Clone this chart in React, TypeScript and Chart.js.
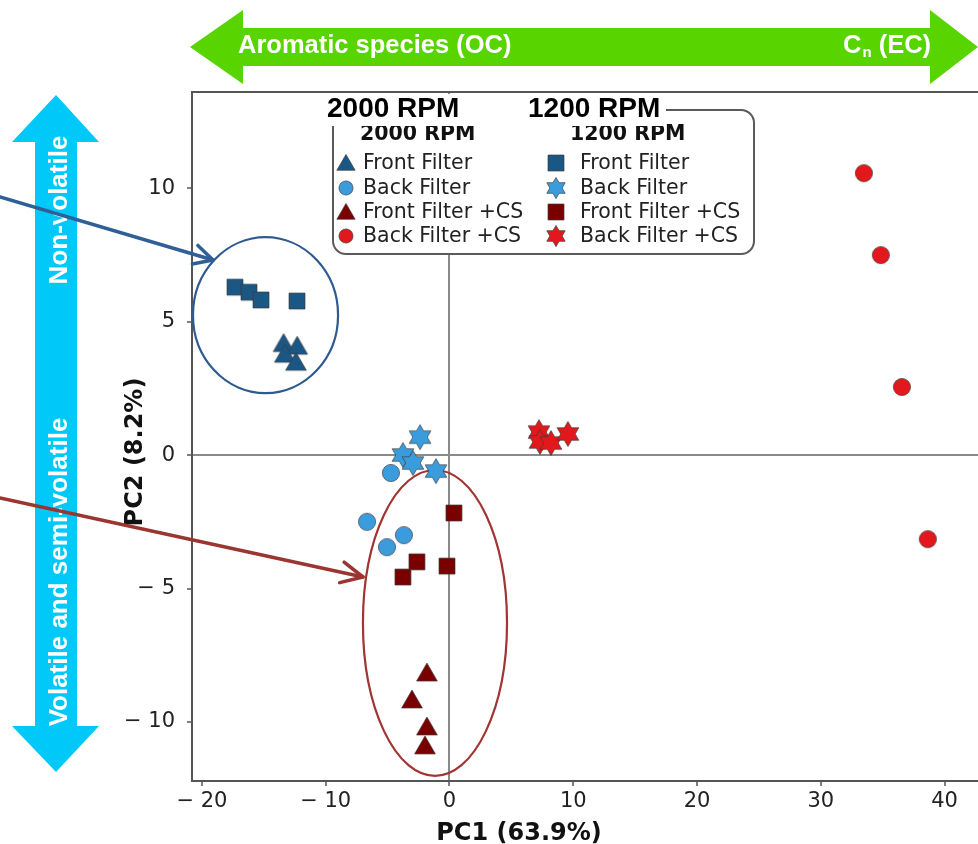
import React, { useEffect, useRef } from 'react';
import { Chart, registerables } from 'chart.js';

Chart.register(...registerables);

// PCA scores (PC1, PC2) per sample group
const front2000X = [-13.4, -12.3, -13.3, -12.4];
const front2000Y = [4.1, 4.0, 3.7, 3.4];
const back2000X = [-4.73, -6.66, -3.68, -5.05];
const back2000Y = [-0.67, -2.5, -3.0, -3.45];
const frontCS2000X = [-1.82, -3.03, -1.82, -1.98];
const frontCS2000Y = [-8.24, -9.25, -10.26, -10.97];
const backCS2000X = [33.48, 34.85, 36.55, 38.65];
const backCS2000Y = [10.56, 7.49, 2.55, -3.15];

const front1200X = [-17.33, -16.2, -15.23, -12.32];
const front1200Y = [6.29, 6.1, 5.81, 5.77];
const back1200X = [-2.38, -3.76, -2.95, -1.09];
const back1200Y = [0.67, 0.0, -0.3, -0.6];
const frontCS1200X = [0.36, -2.63, -3.76, -0.2];
const frontCS1200Y = [-2.17, -4.0, -4.57, -4.16];
const backCS1200X = [7.23, 7.31, 8.2, 9.57];
const backCS1200Y = [0.86, 0.49, 0.45, 0.79];

const seriesLabels = ['Front Filter', 'Back Filter', 'Front Filter +CS', 'Back Filter +CS'];
const groupHeaders = ['2000 RPM', '1200 RPM'];

const xTicks = [-20, -10, 0, 10, 20, 30, 40];
const yTicks = [-10, -5, 0, 5, 10];
const X_MIN = -20.8;
const X_MAX = 42.7;
const Y_MIN = -12.21;
const Y_MAX = 13.6;

// Outlined groups (centre and semi-axes in PC units)
const blueGroup = { cx: -14.86, cy: 5.24, rx: 5.86, ry: 2.92 };
const redGroup = { cx: -1.17, cy: -6.29, rx: 5.82, ry: 5.73 };

const DARK_BLUE = '#1b5784';
const LIGHT_BLUE = '#3a9cdd';
const DARK_RED = '#7a0000';
const RED = '#e3181c';

type Shape = 'triangle' | 'circle' | 'square' | 'star';

function makeMarker(shape: Shape, fill: string, scale = 1): HTMLCanvasElement {
  const s = 32;
  const c = document.createElement('canvas');
  c.width = s;
  c.height = s;
  const g = c.getContext('2d')!;
  g.translate(s / 2, s / 2);
  g.beginPath();
  if (shape === 'triangle') {
    const r = 12 * scale;
    g.moveTo(0, -r);
    g.lineTo(0.866 * r, 0.5 * r);
    g.lineTo(-0.866 * r, 0.5 * r);
    g.closePath();
  } else if (shape === 'circle') {
    g.arc(0, 0, 8.6 * scale, 0, Math.PI * 2);
  } else if (shape === 'square') {
    const h = 8 * scale;
    g.rect(-h, -h, 2 * h, 2 * h);
  } else {
    const R = 12.5 * scale;
    const r = R * 0.58;
    for (let i = 0; i < 12; i++) {
      const a = -Math.PI / 2 + (i * Math.PI) / 6;
      const rad = i % 2 === 0 ? R : r;
      const px = Math.cos(a) * rad;
      const py = Math.sin(a) * rad;
      if (i === 0) g.moveTo(px, py);
      else g.lineTo(px, py);
    }
    g.closePath();
  }
  g.fillStyle = fill;
  g.fill();
  g.strokeStyle = 'rgba(60,60,60,0.85)';
  g.lineWidth = 0.8;
  g.stroke();
  return c;
}

function zip(xs: number[], ys: number[]) {
  return xs.map((x, i) => ({ x, y: ys[i] }));
}

function openArrow(
  ctx: CanvasRenderingContext2D,
  x0: number,
  y0: number,
  x1: number,
  y1: number,
  color: string,
  width: number,
  headLen: number,
  headAngle: number
) {
  const ang = Math.atan2(y1 - y0, x1 - x0);
  ctx.save();
  ctx.strokeStyle = color;
  ctx.lineWidth = width;
  ctx.lineCap = 'round';
  ctx.lineJoin = 'round';
  ctx.beginPath();
  ctx.moveTo(x0, y0);
  ctx.lineTo(x1, y1);
  ctx.stroke();
  ctx.beginPath();
  ctx.moveTo(x1 - headLen * Math.cos(ang - headAngle), y1 - headLen * Math.sin(ang - headAngle));
  ctx.lineTo(x1, y1);
  ctx.lineTo(x1 - headLen * Math.cos(ang + headAngle), y1 - headLen * Math.sin(ang + headAngle));
  ctx.stroke();
  ctx.restore();
}

function noPadding(s: any) {
  s.paddingLeft = 0;
  s.paddingRight = 0;
  s.paddingTop = 0;
  s.paddingBottom = 0;
}

export default function App() {
  const ref = useRef<HTMLCanvasElement>(null);

  useEffect(() => {
    document.body.style.margin = '0';
    const canvas = ref.current!;

    const groups: { xs: number[]; ys: number[]; shape: Shape; color: string }[] = [
      { xs: front2000X, ys: front2000Y, shape: 'triangle', color: DARK_BLUE },
      { xs: back2000X, ys: back2000Y, shape: 'circle', color: LIGHT_BLUE },
      { xs: frontCS2000X, ys: frontCS2000Y, shape: 'triangle', color: DARK_RED },
      { xs: backCS2000X, ys: backCS2000Y, shape: 'circle', color: RED },
      { xs: front1200X, ys: front1200Y, shape: 'square', color: DARK_BLUE },
      { xs: back1200X, ys: back1200Y, shape: 'star', color: LIGHT_BLUE },
      { xs: frontCS1200X, ys: frontCS1200Y, shape: 'square', color: DARK_RED },
      { xs: backCS1200X, ys: backCS1200Y, shape: 'star', color: RED },
    ];

    const legendScale: Record<Shape, number> = { triangle: 0.88, circle: 0.82, square: 1, star: 0.85 };

    const datasets = groups.map((g, i) => ({
      label: `${groupHeaders[i < 4 ? 0 : 1]} ${seriesLabels[i % 4]}`,
      data: zip(g.xs, g.ys),
      pointStyle: makeMarker(g.shape, g.color),
      pointRadius: 10,
      pointHoverRadius: 10,
      showLine: false,
    }));
    const legendMarkers = groups.map((g) => makeMarker(g.shape, g.color, legendScale[g.shape]));

    const annotations = {
      id: 'annotations',
      beforeDatasetsDraw(chart: any) {
        const { ctx, chartArea, scales } = chart;
        const xs = scales.x;
        const ys = scales.y;
        ctx.save();
        // top frame
        ctx.strokeStyle = '#555';
        ctx.lineWidth = 2;
        ctx.beginPath();
        ctx.moveTo(chartArea.left - 1, chartArea.top);
        ctx.lineTo(chartArea.right, chartArea.top);
        ctx.stroke();
        // group outlines
        const ell = (e: typeof blueGroup, color: string) => {
          const px = xs.getPixelForValue(e.cx);
          const py = ys.getPixelForValue(e.cy);
          const rx = Math.abs(xs.getPixelForValue(e.cx + e.rx) - px);
          const ry = Math.abs(ys.getPixelForValue(e.cy + e.ry) - py);
          ctx.beginPath();
          ctx.ellipse(px, py, rx, ry, 0, 0, Math.PI * 2);
          ctx.strokeStyle = color;
          ctx.lineWidth = 2.2;
          ctx.stroke();
        };
        ell(blueGroup, '#2f5a90');
        ell(redGroup, '#a03532');
        ctx.restore();
      },
      afterDraw(chart: any) {
        const { ctx } = chart;
        ctx.save();

        // axis titles
        ctx.fillStyle = '#111';
        ctx.font = 'bold 24px "DejaVu Sans"';
        ctx.textAlign = 'center';
        ctx.textBaseline = 'alphabetic';
        ctx.fillText('PC1 (63.9%)', 519, 840);
        ctx.save();
        ctx.translate(142, 452);
        ctx.rotate(-Math.PI / 2);
        ctx.fillText('PC2 (8.2%)', 0, 0);
        ctx.restore();

        // legend box
        ctx.beginPath();
        (ctx as any).roundRect(333, 110, 421, 144, 13);
        ctx.fillStyle = '#fff';
        ctx.fill();
        ctx.strokeStyle = '#5a5a5a';
        ctx.lineWidth = 2;
        ctx.stroke();

        ctx.fillStyle = '#111';
        ctx.textAlign = 'left';
        ctx.font = 'bold 20.5px "DejaVu Sans"';
        ctx.fillText(groupHeaders[0], 360, 140);
        ctx.fillText(groupHeaders[1], 570, 140);

        const rows = [163, 188, 212, 236];
        ctx.font = '20.5px "DejaVu Sans"';
        ctx.textBaseline = 'middle';
        ctx.fillStyle = '#222';
        for (let i = 0; i < 4; i++) {
          const m1 = legendMarkers[i];
          const m2 = legendMarkers[i + 4];
          const y = rows[i];
          const y1 = groups[i].shape === 'triangle' ? y + 2 : y;
          ctx.drawImage(m1, 346 - m1.width / 2, y1 - m1.height / 2);
          ctx.drawImage(m2, 556 - m2.width / 2, y - m2.height / 2);
          ctx.fillText(seriesLabels[i], 363, y + 1);
          ctx.fillText(seriesLabels[i], 580, y + 1);
        }

        // heading strip above legend
        ctx.fillStyle = '#fff';
        ctx.fillRect(324, 94, 342, 32);
        ctx.fillStyle = '#000';
        ctx.textBaseline = 'alphabetic';
        ctx.font = 'bold 28px "Liberation Sans"';
        ctx.fillText(groupHeaders[0], 327, 117);
        ctx.fillText(groupHeaders[1], 528, 117);

        // green PC1 interpretation arrow
        ctx.fillStyle = '#58d400';
        ctx.beginPath();
        ctx.moveTo(190, 47);
        ctx.lineTo(243, 10);
        ctx.lineTo(243, 28);
        ctx.lineTo(930, 28);
        ctx.lineTo(930, 10);
        ctx.lineTo(978, 47);
        ctx.lineTo(930, 84);
        ctx.lineTo(930, 66);
        ctx.lineTo(243, 66);
        ctx.lineTo(243, 84);
        ctx.closePath();
        ctx.fill();
        ctx.fillStyle = '#fff';
        ctx.font = 'bold 25.5px "Liberation Sans"';
        ctx.textBaseline = 'middle';
        ctx.fillText('Aromatic species (OC)', 238, 46);
        // C_n (EC)
        let cx = 843;
        ctx.fillText('C', cx, 46);
        cx += ctx.measureText('C').width;
        ctx.font = 'bold 15px "Liberation Sans"';
        ctx.fillText('n', cx + 1, 53);
        cx += ctx.measureText('n').width + 1;
        ctx.font = 'bold 25.5px "Liberation Sans"';
        ctx.fillText(' (EC)', cx, 46);

        // cyan PC2 interpretation arrow
        ctx.fillStyle = '#00c8f8';
        ctx.beginPath();
        ctx.moveTo(56, 95);
        ctx.lineTo(99, 142);
        ctx.lineTo(77, 142);
        ctx.lineTo(77, 726);
        ctx.lineTo(99, 726);
        ctx.lineTo(56, 772);
        ctx.lineTo(12, 726);
        ctx.lineTo(35, 726);
        ctx.lineTo(35, 142);
        ctx.lineTo(12, 142);
        ctx.closePath();
        ctx.fill();
        ctx.fillStyle = '#fff';
        ctx.font = 'bold 26px "Liberation Sans"';
        ctx.textAlign = 'center';
        ctx.textBaseline = 'alphabetic';
        ctx.save();
        ctx.translate(67, 210);
        ctx.rotate(-Math.PI / 2);
        ctx.fillText('Non-volatile', 0, 0);
        ctx.restore();
        ctx.save();
        ctx.translate(67, 572);
        ctx.rotate(-Math.PI / 2);
        ctx.fillText('Volatile and semi-volatile', 0, 0);
        ctx.restore();

        // pointer arrows to the outlined groups
        openArrow(ctx, 0, 197, 213, 260, '#2f5f97', 3.5, 21, 0.48);
        openArrow(ctx, 0, 498, 363, 577, '#9a3530', 3.5, 24, 0.45);

        ctx.restore();
      },
    };

    const tickLabel = (v: number | string) => {
      const n = Number(v);
      return n < 0 ? `\u2212 ${Math.abs(n)}` : String(n);
    };
    const gridColor = (c: any) => (c.tick && c.tick.value === 0 ? '#8a8a8a' : 'rgba(0,0,0,0)');

    const chart = new Chart(canvas, {
      type: 'scatter',
      data: { datasets: datasets as any },
      options: {
        responsive: false,
        animation: false,
        layout: { autoPadding: false, padding: { top: 92, left: 0, right: 0, bottom: 0 } },
        plugins: { legend: { display: false }, tooltip: { enabled: false } },
        scales: {
          x: {
            type: 'linear',
            min: X_MIN,
            max: X_MAX,
            afterBuildTicks: (s: any) => {
              s.ticks = xTicks.map((v) => ({ value: v }));
            },
            afterFit: (s: any) => {
              s.height = 63;
              noPadding(s);
            },
            ticks: {
              callback: tickLabel,
              font: { family: 'DejaVu Sans', size: 21 },
              color: '#222',
              padding: 3,
              maxRotation: 0,
            },
            grid: { color: gridColor, lineWidth: 2, tickLength: 5, tickColor: '#555', tickWidth: 1.5 },
            border: { color: '#555', width: 2 },
          },
          y: {
            type: 'linear',
            min: Y_MIN,
            max: Y_MAX,
            afterBuildTicks: (s: any) => {
              s.ticks = yTicks.map((v) => ({ value: v }));
            },
            afterFit: (s: any) => {
              s.width = 192;
              noPadding(s);
            },
            ticks: {
              callback: tickLabel,
              font: { family: 'DejaVu Sans', size: 21 },
              color: '#222',
              padding: 12,
            },
            grid: { color: gridColor, lineWidth: 2, tickLength: 5, tickColor: '#555', tickWidth: 1.5 },
            border: { color: '#555', width: 2 },
          },
        },
      },
      plugins: [annotations as any],
    });

    return () => chart.destroy();
  }, []);

  return <canvas ref={ref} width={978} height={844} style={{ display: 'block' }} />;
}
